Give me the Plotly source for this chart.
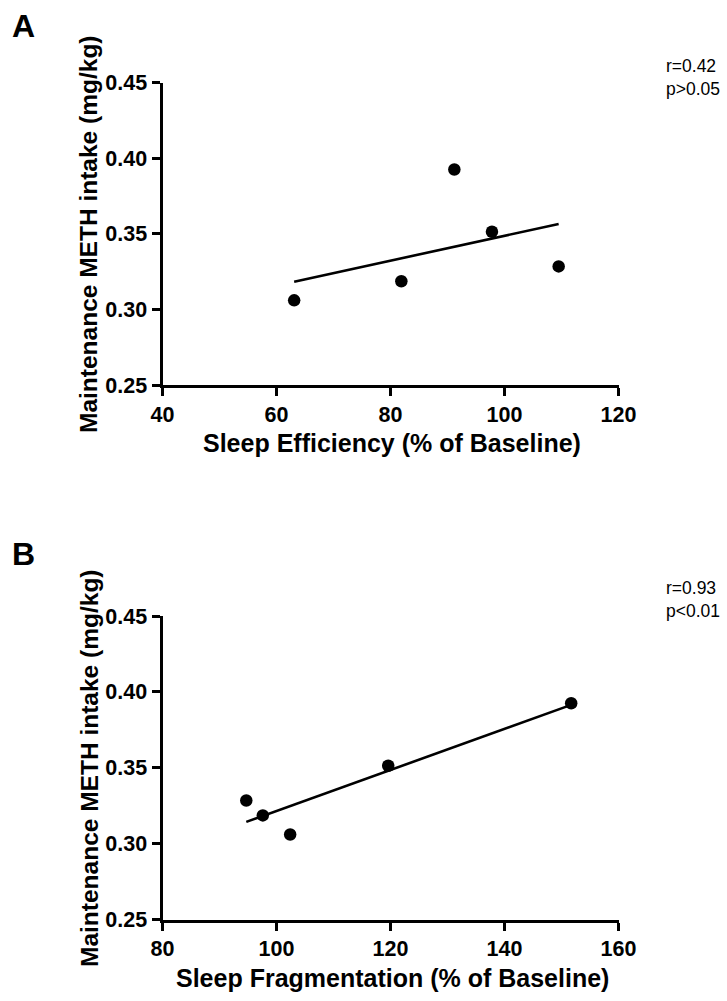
import numpy as np
import plotly.graph_objects as go

# ---- data ----
meth_intake = [0.306, 0.3186, 0.3925, 0.3513, 0.3284]      # mg/kg, same animals in A and B
sleep_efficiency = [63.1, 81.9, 91.2, 97.8, 109.5]          # % of baseline (panel A)
sleep_fragmentation = [102.4, 97.6, 151.7, 119.6, 94.7]     # % of baseline (panel B)

x_ticks_a = [40, 60, 80, 100, 120]
x_ticks_b = [80, 100, 120, 140, 160]
y_ticks = [0.25, 0.30, 0.35, 0.40, 0.45]

stats_a = ["r=0.42", "p>0.05"]
stats_b = ["r=0.93", "p<0.01"]

W, H = 727, 1001
FONT = "Liberation Sans, Arial, sans-serif"

def px_x(v):
    return v / W

def px_y(v):
    return 1 - v / H

fig = go.Figure()

def add_panel(xs, ys, xaxis, yaxis):
    fig.add_trace(go.Scatter(
        x=xs, y=ys, mode="markers", xaxis=xaxis, yaxis=yaxis,
        marker=dict(color="black", size=12.5, symbol="circle"),
        showlegend=False, hoverinfo="skip"))
    slope, intercept = np.polyfit(xs, ys, 1)
    lx = [min(xs), max(xs)]
    ly = [slope * v + intercept for v in lx]
    fig.add_trace(go.Scatter(
        x=lx, y=ly, mode="lines", xaxis=xaxis, yaxis=yaxis,
        line=dict(color="black", width=2.6),
        showlegend=False, hoverinfo="skip"))

add_panel(sleep_efficiency, meth_intake, "x", "y")
add_panel(sleep_fragmentation, meth_intake, "x2", "y2")

xdom = [px_x(162.5), px_x(618.5)]
ydom_a = [px_y(385), px_y(82.5)]
ydom_b = [px_y(919.5), px_y(616)]

tickfont = dict(family=FONT, size=21.5, color="black", weight="bold")

def axis_common():
    return dict(showline=True, linewidth=3, linecolor="black",
                ticks="outside", ticklen=8, tickwidth=3, tickcolor="black",
                showgrid=False, zeroline=False, fixedrange=True,
                tickfont=tickfont, automargin=False)

fig.update_layout(
    width=W, height=H, autosize=False,
    margin=dict(l=0, r=0, t=0, b=0),
    paper_bgcolor="white", plot_bgcolor="white",
    xaxis=dict(domain=xdom, anchor="y", range=[x_ticks_a[0], x_ticks_a[-1]],
               tickvals=x_ticks_a, **axis_common()),
    yaxis=dict(domain=ydom_a, anchor="x", range=[y_ticks[0], y_ticks[-1]],
               tickvals=y_ticks, tickformat=".2f", **axis_common()),
    xaxis2=dict(domain=xdom, anchor="y2", range=[x_ticks_b[0], x_ticks_b[-1]],
                tickvals=x_ticks_b, **axis_common()),
    yaxis2=dict(domain=ydom_b, anchor="x2", range=[y_ticks[0], y_ticks[-1]],
                tickvals=y_ticks, tickformat=".2f", **axis_common()),
)

title_font = dict(family=FONT, size=25, color="black", weight="bold")
ytitle_font = dict(family=FONT, size=24.5, color="black", weight="bold")
stat_font = dict(family=FONT, size=17.5, color="black")
label_font = dict(family=FONT, size=32, color="black", weight="bold")

ann = []
# axis titles
ann.append(dict(text="Sleep Efficiency (% of Baseline)", x=px_x(392), y=px_y(443),
                font=title_font))
ann.append(dict(text="Sleep Fragmentation (% of Baseline)", x=px_x(392), y=px_y(977.5),
                font=title_font))
ann.append(dict(text="Maintenance METH intake (mg/kg)", x=px_x(89), y=px_y(234),
                textangle=-90, font=ytitle_font))
ann.append(dict(text="Maintenance METH intake (mg/kg)", x=px_x(89), y=px_y(768),
                textangle=-90, font=ytitle_font))
# panel labels
ann.append(dict(text="A", x=px_x(24), y=px_y(26), font=label_font))
ann.append(dict(text="B", x=px_x(24), y=px_y(554), font=label_font))
# stats
ann.append(dict(text=stats_a[0], x=px_x(664), y=px_y(66), xanchor="left", font=stat_font))
ann.append(dict(text=stats_a[1], x=px_x(664), y=px_y(89), xanchor="left", font=stat_font))
ann.append(dict(text=stats_b[0], x=px_x(664), y=px_y(588), xanchor="left", font=stat_font))
ann.append(dict(text=stats_b[1], x=px_x(664), y=px_y(611), xanchor="left", font=stat_font))

for a in ann:
    a.setdefault("xanchor", "center")
    a.update(xref="paper", yref="paper", yanchor="middle", showarrow=False)
fig.update_layout(annotations=ann)

fig.write_html("out.html", config={"displayModeBar": False},
               post_script="document.body.style.margin='0';document.body.style.overflow='hidden';")
